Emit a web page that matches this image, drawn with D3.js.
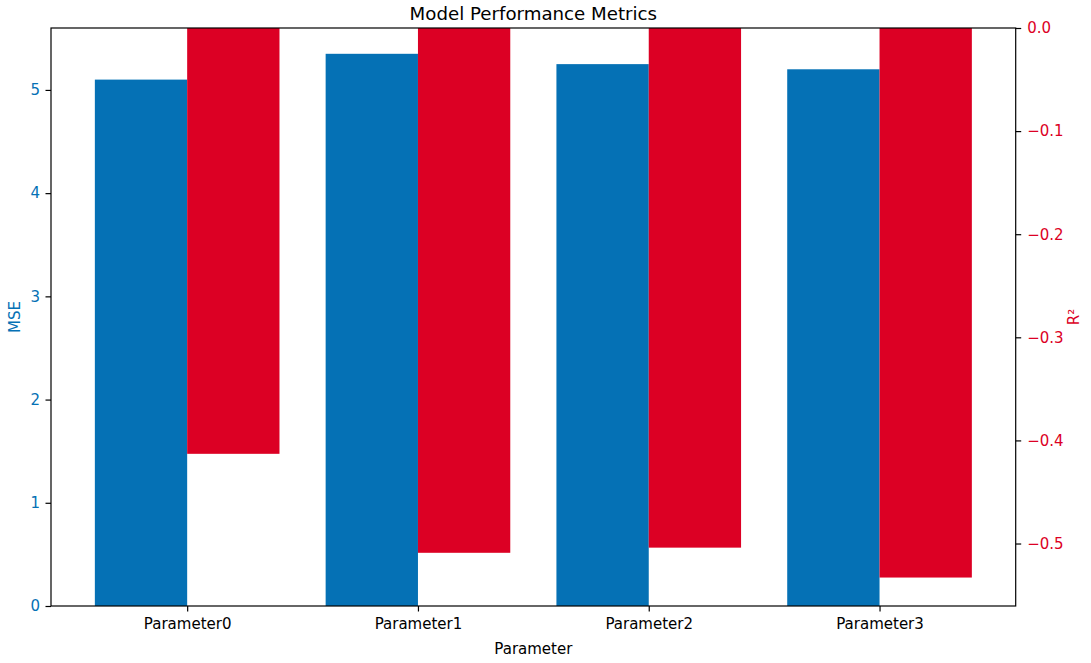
<!DOCTYPE html>
<html>
<head>
<meta charset="utf-8">
<script src="https://cdn.jsdelivr.net/npm/d3@7/dist/d3.min.js"></script>
<style>
  html, body { margin: 0; padding: 0; background: #fff; }
  svg { display: block; font-family: "DejaVu Sans", sans-serif; }
</style>
</head>
<body>
<svg id="chart" width="1091" height="663"></svg>
<script>
// Chart data
const categories = ["Parameter0", "Parameter1", "Parameter2", "Parameter3"];
const mseValues = [5.10, 5.35, 5.25, 5.20];
const r2Values = [-0.413, -0.509, -0.504, -0.533];
const mseTicks = [0, 1, 2, 3, 4, 5];
const r2Ticks = [0.0, -0.1, -0.2, -0.3, -0.4, -0.5];

const blue = "#0571b5";
const red = "#dc0024";

const svg = d3.select("#chart");
const plotLeft = 51, plotRight = 1015.7, plotTop = 28, plotBottom = 606;
const barW = 0.4;

const x = d3.scaleLinear().domain([-0.59, categories.length - 1 + 0.59]).range([plotLeft, plotRight]);
const yMse = d3.scaleLinear().domain([0, 5.6]).range([plotBottom, plotTop]);
const yR2 = d3.scaleLinear().domain([-0.5606, 0]).range([plotBottom, plotTop]);

// MSE bars (left axis)
svg.append("g").selectAll("rect").data(mseValues).join("rect")
  .attr("x", (d, i) => x(i - barW))
  .attr("width", (d, i) => x(i) - x(i - barW))
  .attr("y", d => yMse(d))
  .attr("height", d => yMse(0) - yMse(d))
  .attr("fill", blue);

// R² bars (right axis), hanging from zero
svg.append("g").selectAll("rect").data(r2Values).join("rect")
  .attr("x", (d, i) => x(i))
  .attr("width", (d, i) => x(i + barW) - x(i))
  .attr("y", yR2(0))
  .attr("height", d => yR2(d) - yR2(0))
  .attr("fill", red);

// Axes
const fontSize = "15px";
const tickLen = 5.5;
const styleTicks = (g, color) => {
  g.select(".domain").remove();
  g.selectAll(".tick line").attr("stroke", "#000").attr("stroke-width", 1.2);
  g.selectAll(".tick text").attr("fill", color).style("font-size", fontSize)
    .style("font-family", "DejaVu Sans, sans-serif");
};

const leftAxis = d3.axisLeft(yMse).tickValues(mseTicks).tickFormat(d3.format("d"))
  .tickSizeInner(tickLen).tickSizeOuter(0).tickPadding(5.5);
const gl = svg.append("g").attr("transform", `translate(${plotLeft},0)`).call(leftAxis);
styleTicks(gl, blue);

const rightAxis = d3.axisRight(yR2).tickValues(r2Ticks).tickFormat(d3.format(".1f"))
  .tickSizeInner(tickLen).tickSizeOuter(0).tickPadding(6);
const gr = svg.append("g").attr("transform", `translate(${plotRight},0)`).call(rightAxis);
styleTicks(gr, red);

const bottomAxis = d3.axisBottom(x).tickValues(d3.range(categories.length))
  .tickFormat(i => categories[i]).tickSizeInner(tickLen).tickSizeOuter(0).tickPadding(7);
const gb = svg.append("g").attr("transform", `translate(0,${plotBottom})`).call(bottomAxis);
styleTicks(gb, "#000");

// Frame
svg.append("rect")
  .attr("x", plotLeft).attr("y", plotTop)
  .attr("width", plotRight - plotLeft).attr("height", plotBottom - plotTop)
  .attr("fill", "none").attr("stroke", "#000").attr("stroke-width", 1.2);

// Labels
svg.append("text").attr("x", (plotLeft + plotRight) / 2).attr("y", 19.5)
  .attr("text-anchor", "middle").style("font-size", "18.2px").attr("fill", "#000")
  .text("Model Performance Metrics");

svg.append("text").attr("x", (plotLeft + plotRight) / 2).attr("y", 654)
  .attr("text-anchor", "middle").style("font-size", fontSize).attr("fill", "#000")
  .text("Parameter");

svg.append("text")
  .attr("transform", `translate(19.5,${(plotTop + plotBottom) / 2}) rotate(-90)`)
  .attr("text-anchor", "middle").style("font-size", fontSize).attr("fill", blue)
  .text("MSE");

svg.append("text")
  .attr("transform", `translate(1079,${(plotTop + plotBottom) / 2}) rotate(-90)`)
  .attr("text-anchor", "middle").style("font-size", fontSize).attr("fill", red)
  .text("R²");
</script>
</body>
</html>
